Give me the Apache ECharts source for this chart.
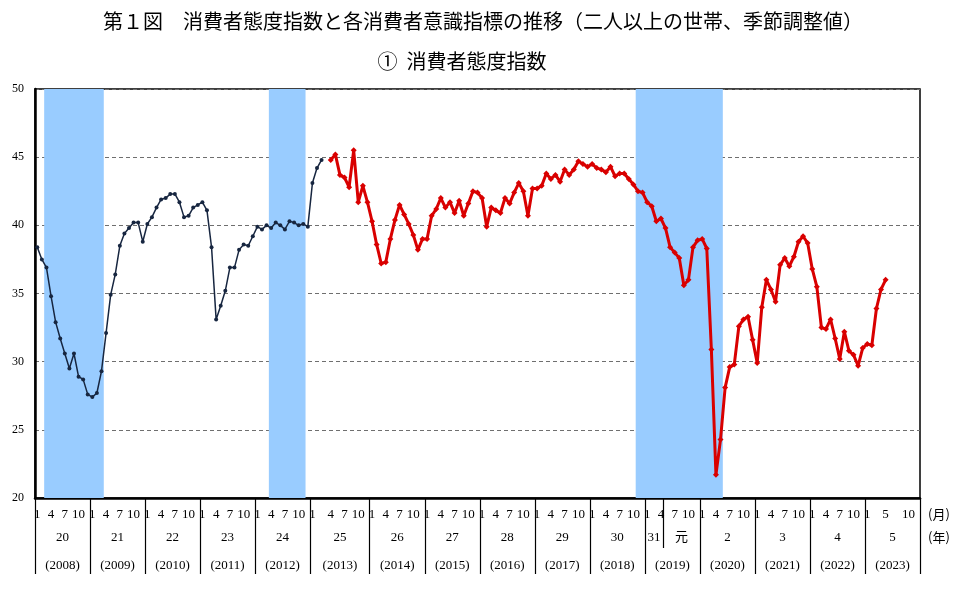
<!DOCTYPE html>
<html><head><meta charset="utf-8">
<script src="https://cdn.jsdelivr.net/npm/echarts@6/dist/echarts.min.js"></script>
<style>html,body{margin:0;padding:0;background:#fff}#c{width:955px;height:592px}</style>
</head><body><div id="c"></div>
<script>
// ---- data ----
const titleText = '第１図　消費者態度指数と各消費者意識指標の推移（二人以上の世帯、季節調整値）';
const subTitleText = '①  消費者態度指数';
const startYear = 2008;
const years = [2008,2009,2010,2011,2012,2013,2014,2015,2016,2017,2018,2019,2020,2021,2022,2023];
// visit survey series, from 2008-01 to 2013-03
const navyValues = [
  38.4,37.5,36.9,34.8,32.9,31.7,30.6,29.5,30.6,28.9,28.7,27.6,
  27.4,27.7,29.3,32.1,34.9,36.4,38.5,39.4,39.8,40.2,40.2,38.8,
  40.1,40.6,41.3,41.9,42.0,42.3,42.3,41.7,40.6,40.7,41.3,41.5,
  41.7,41.1,38.4,33.1,34.1,35.2,36.9,36.9,38.2,38.6,38.5,39.2,
  39.9,39.7,40.0,39.8,40.2,40.0,39.7,40.3,40.2,40.0,40.1,39.9,
  43.1,44.2,44.8
];
// mail survey series, from 2013-04 to 2023-05
const redStart = '2013-04';
const redValues = [
  44.8,45.2,43.7,43.5,42.8,45.5,41.7,42.9,41.7,
  40.3,38.6,37.2,37.3,39.0,40.4,41.5,40.8,40.1,39.3,38.2,39.0,
  39.0,40.7,41.2,42.0,41.3,41.7,40.9,41.8,40.7,41.6,42.5,42.4,
  42.0,39.9,41.3,41.1,40.9,42.0,41.6,42.4,43.1,42.5,40.7,42.7,
  42.7,42.9,43.8,43.4,43.7,43.2,44.1,43.7,44.1,44.7,44.5,44.3,
  44.5,44.2,44.1,43.9,44.3,43.6,43.8,43.8,43.4,43.0,42.5,42.4,
  41.7,41.4,40.3,40.5,39.8,38.4,38.0,37.6,35.6,36.0,38.4,38.9,
  39.0,38.3,30.9,21.7,24.3,28.1,29.6,29.8,32.6,33.1,33.3,31.6,
  29.9,34.0,36.0,35.3,34.4,37.1,37.6,37.0,37.7,38.8,39.2,38.7,
  36.8,35.5,32.5,32.4,33.1,31.7,30.2,32.2,30.8,30.5,29.7,31.0,
  31.3,31.2,33.9,35.3,36.0
];
// recession periods (shaded)
const recessions = [['2008-03','2009-03'],['2012-04','2012-11'],['2018-11','2020-05']];
const monthTicks = [1,4,7,10];
const monthTicksLastYear = [1,5,10];
const eraLabels = ['20','21','22','23','24','25','26','27','28','29','30','31','元','2','3','4','5'];
const yearLabels = years.map(y => '(' + y + ')');
const eraChangeMonth = '2019-05';
const yMin = 20, yMax = 50, yStep = 5;
const monthUnit = '(月)', yearUnit = '(年)';

// ---- helpers ----
function mIndex(s){ const [y,m] = s.split('-').map(Number); return (y-startYear)*12 + (m-1); }
const gapAt = mIndex(redStart);             // one empty slot before the mail survey
function slot(m){ return m + (m >= gapAt ? 1 : 0); }
const totalSlots = slot(years.length*12 - 1) + 1;

const navyData = navyValues.map((v,i)=>[slot(i)+0.5, v]);
const redData = redValues.map((v,i)=>[slot(gapAt+i)+0.5, v]);

const yearBounds = years.map((y,k)=>slot(k*12)).concat([totalSlots]);
const monthLabelMap = {};
years.forEach((y,k)=>{
  const list = (k===years.length-1) ? monthTicksLastYear : monthTicks;
  list.forEach(mm=>{ monthLabelMap[(slot(k*12+mm-1)+0.5).toFixed(2)] = String(mm); });
});
const monthLabelValues = Object.keys(monthLabelMap).map(Number);

const eraSplit = slot(mIndex(eraChangeMonth));
const eraSpans = [];
years.forEach((y,k)=>{
  const a = yearBounds[k], b = yearBounds[k+1];
  if (a < eraSplit && eraSplit < b){ eraSpans.push([a,eraSplit]); eraSpans.push([eraSplit,b]); }
  else eraSpans.push([a,b]);
});
const eraMap = {};
eraSpans.forEach((s,i)=>{ eraMap[((s[0]+s[1])/2).toFixed(2)] = eraLabels[i]; });
const yearMap = {};
years.forEach((y,k)=>{ yearMap[((yearBounds[k]+yearBounds[k+1])/2).toFixed(2)] = yearLabels[k]; });

const serif = "'Liberation Serif','Noto Sans CJK JP',serif";
const jp = "'Noto Sans CJK JP',sans-serif";

function xAx(extra){
  return Object.assign({
    type:'value', min:0, max:totalSlots, gridIndex:0, position:'bottom',
    splitLine:{show:false}, axisLine:{show:false}, axisTick:{show:false}
  }, extra);
}

const chart = echarts.init(document.getElementById('c'));
chart.setOption({
  animation:false,
  backgroundColor:'#fff',
  title:[
    {text:titleText, left:478, top:6, textAlign:'center', textStyle:{fontFamily:jp, fontSize:20, fontWeight:'normal', color:'#000'}},
    {text:subTitleText, left:457, top:46, textAlign:'center', textStyle:{fontFamily:jp, fontSize:20, fontWeight:'normal', color:'#000'}}
  ],
  grid:{left:35, right:35, top:89, bottom:94, show:true, borderColor:'#000', borderWidth:1.5, containLabel:false},
  xAxis:[
    xAx({
      axisLine:{show:true, onZero:false, lineStyle:{color:'#000', width:2.5}},
      axisTick:{show:true, customValues:yearBounds, length:76, lineStyle:{color:'#000', width:1.2}},
      axisLabel:{show:true, customValues:monthLabelValues, margin:10, fontFamily:serif, fontSize:13, color:'#000',
        formatter:v=>monthLabelMap[v.toFixed(2)]||''}
    }),
    xAx({
      axisTick:{show:true, customValues:[eraSplit], length:50, lineStyle:{color:'#000', width:1.2}},
      axisLabel:{show:true, customValues:eraSpans.map(s=>(s[0]+s[1])/2), margin:33, fontFamily:serif, fontSize:13, color:'#000',
        formatter:v=>eraMap[v.toFixed(2)]||''}
    }),
    xAx({
      axisLabel:{show:true, customValues:years.map((y,k)=>(yearBounds[k]+yearBounds[k+1])/2), margin:61, fontFamily:serif, fontSize:13, color:'#000',
        formatter:v=>yearMap[v.toFixed(2)]||''}
    })
  ],
  yAxis:{
    type:'value', min:yMin, max:yMax, interval:yStep,
    axisLine:{show:true, lineStyle:{color:'#000', width:2.5}},
    axisTick:{show:false},
    axisLabel:{margin:11, fontFamily:serif, fontSize:12, color:'#000'},
    splitLine:{show:true, lineStyle:{color:'#6f6f6f', width:1.2, type:[4,3]}}
  },
  series:[
    {type:'line', data:[], z:1, silent:true,
     markArea:{silent:true, itemStyle:{color:'#99ccff', opacity:1},
       data:recessions.map(r=>[{xAxis:slot(mIndex(r[0]))},{xAxis:slot(mIndex(r[1]))+1}])}},
    {type:'line', data:navyData, z:3, symbol:'circle', symbolSize:4, showAllSymbol:true,
     lineStyle:{color:'#172640', width:1.5}, itemStyle:{color:'#172640'}},
    {type:'line', data:redData, z:4, symbol:'diamond', symbolSize:6, showAllSymbol:true,
     lineStyle:{color:'#d90000', width:3}, itemStyle:{color:'#d90000'}}
  ],
  graphic:[
    {type:'text', left:928, top:508, style:{text:monthUnit, font:"13px 'Noto Sans CJK JP'", fill:'#000'}},
    {type:'text', left:928, top:531, style:{text:yearUnit, font:"13px 'Noto Sans CJK JP'", fill:'#000'}}
  ]
});
</script></body></html>
